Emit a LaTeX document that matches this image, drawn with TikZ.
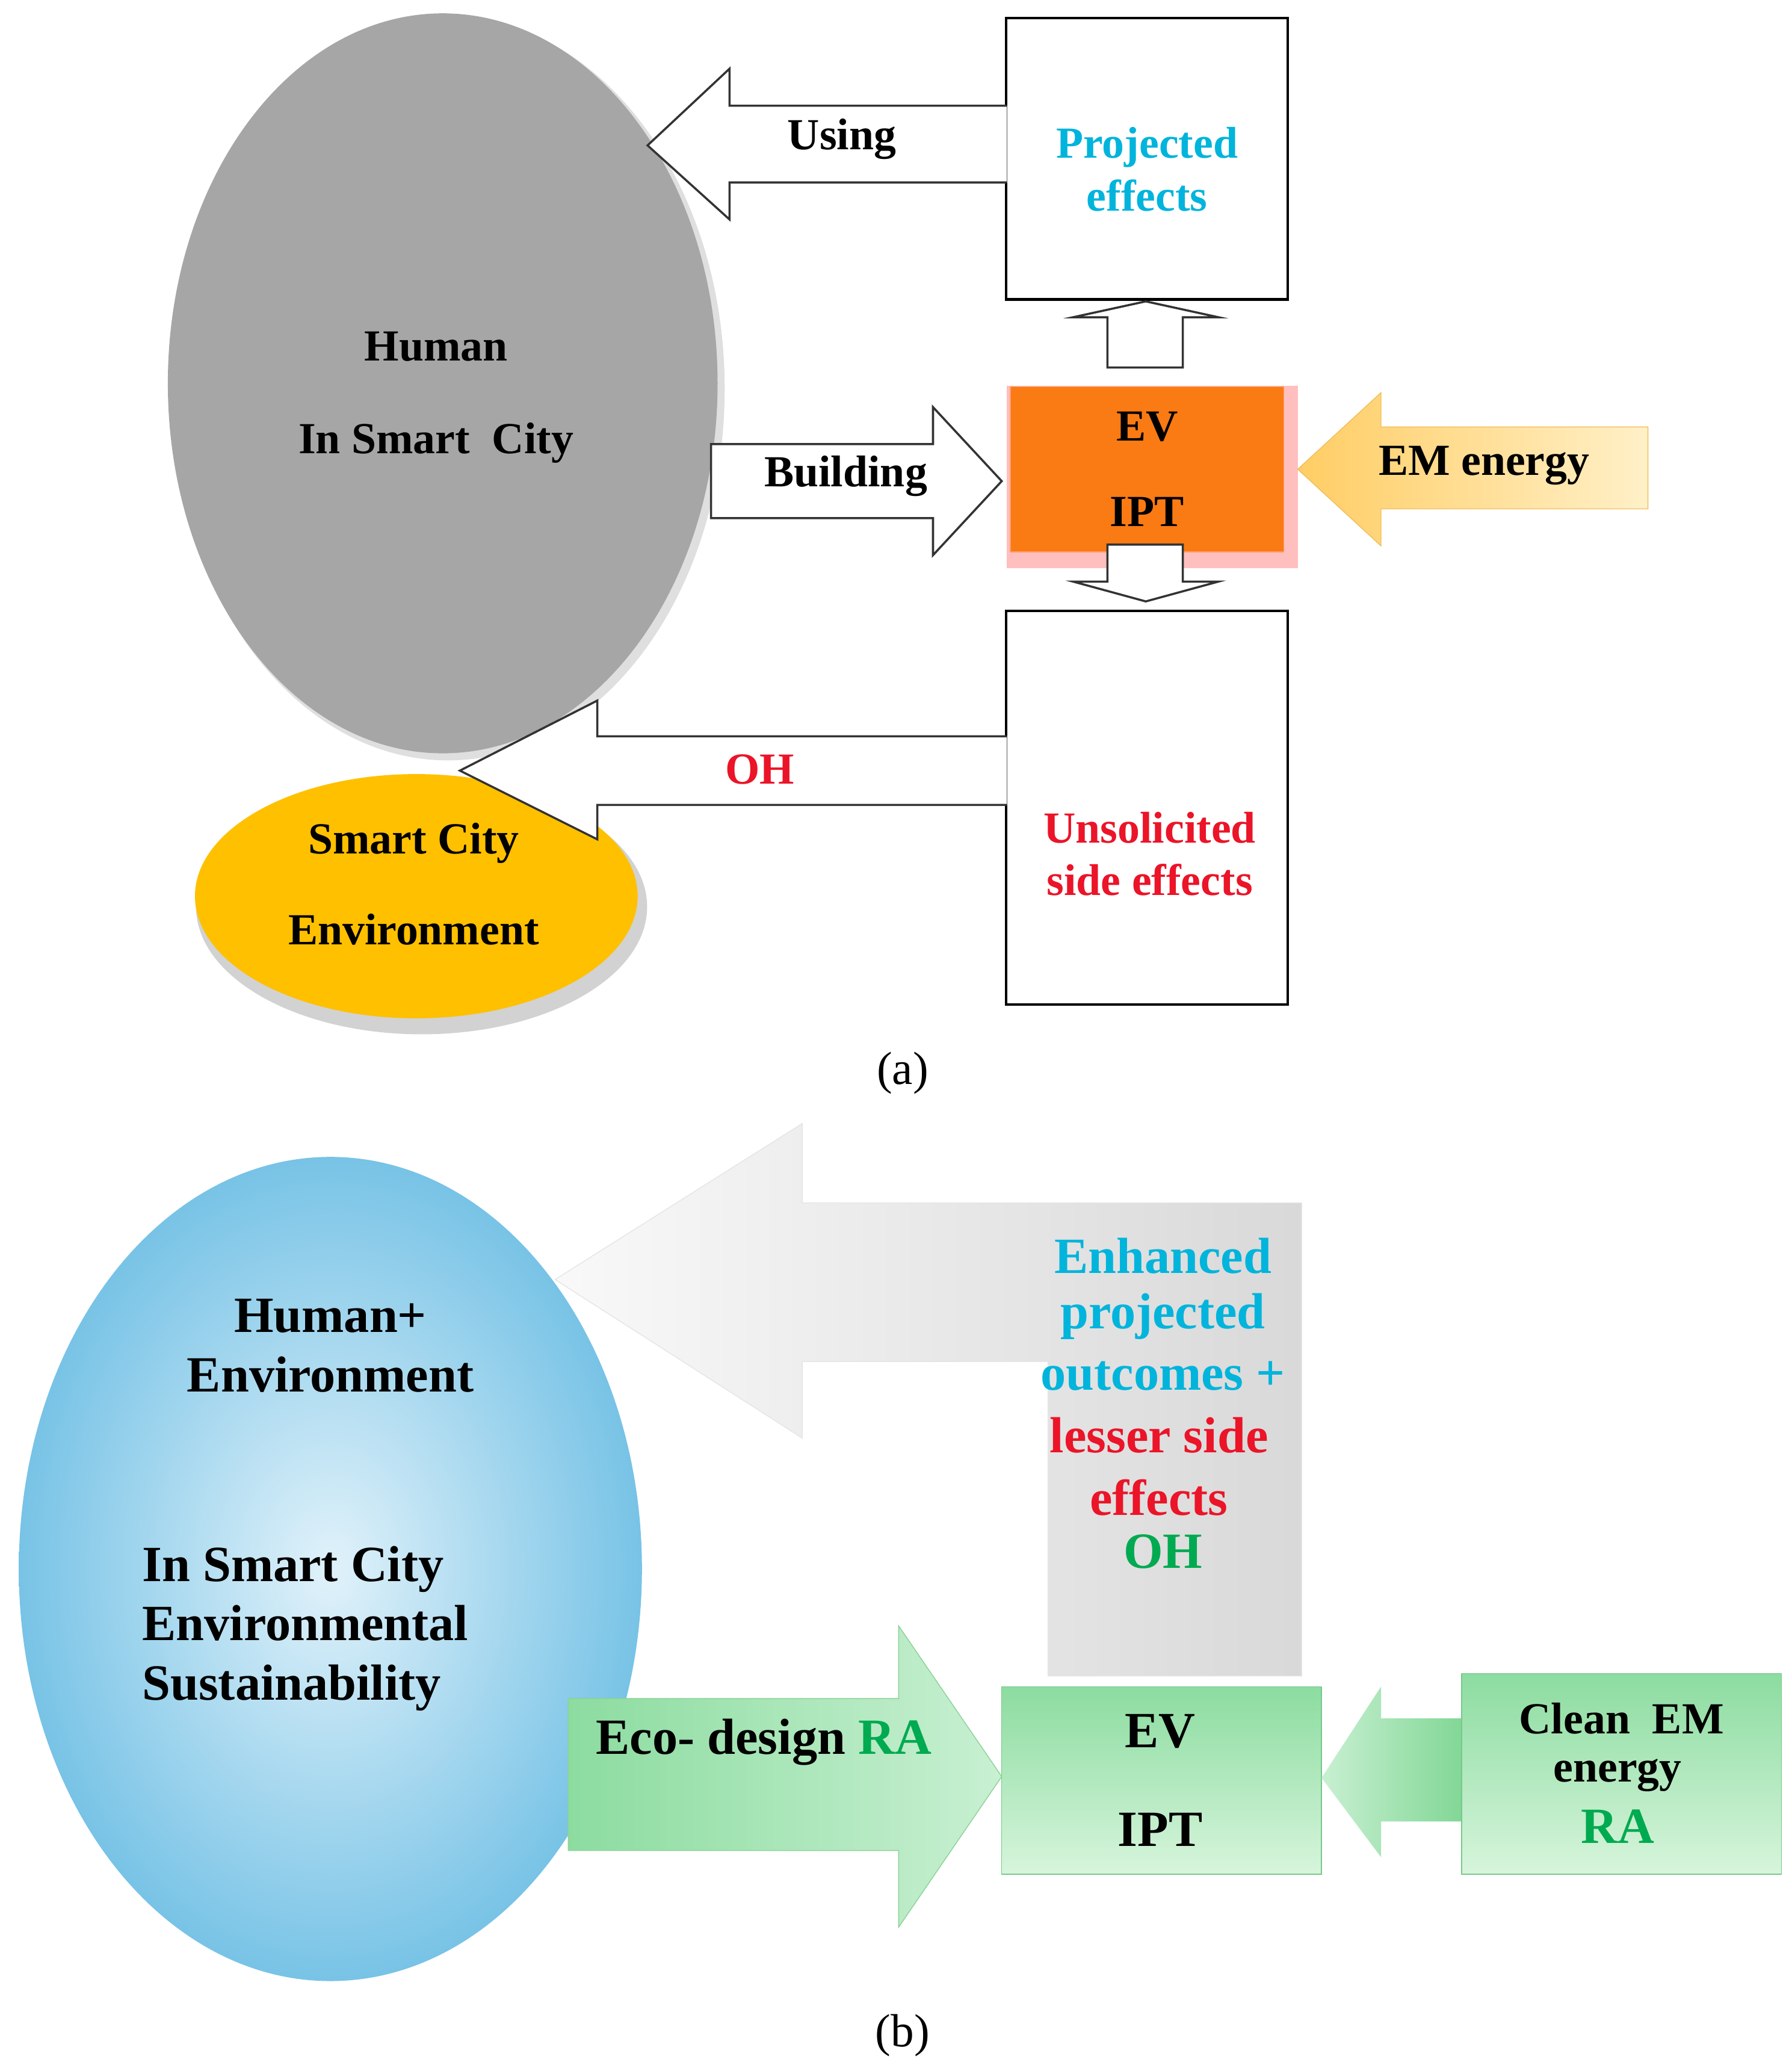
\documentclass[tikz,border=0pt]{standalone}
\usepackage{fontspec}
\setmainfont{Liberation Serif}
\begin{document}
\begin{tikzpicture}[x=0.02197cm,y=-0.02197cm,
  lab/.style={font=\bfseries\fontsize{21}{25}\selectfont,align=center},
  labb/.style={font=\bfseries\fontsize{24}{28}\selectfont,align=center},
  box/.style={draw=black,line width=1.2pt,fill=white},
  harrow/.style={draw=black!80,line width=1pt,fill=white,line join=miter}]
\definecolor{cyn}{RGB}{0,180,220}
\definecolor{rd}{RGB}{235,20,40}
\definecolor{grn}{RGB}{0,170,80}
\useasboundingbox (0,0) rectangle (1356,1560);
% ---------- (a)
\fill[gray!25] (339,294) ellipse [x radius=4.6cm,y radius=6.18cm];
\fill[black!35] (335,290) ellipse [x radius=4.57cm,y radius=6.15cm];
\node[lab] (hum) at (330,262) {Human};
\node[lab] (hsc) at (330,335) {In Smart\ \ City};
\fill[gray!35] (319,686) ellipse [x radius=3.75cm,y radius=2.12cm];
\fill[fill={rgb,255:red,255;green,192;blue,0}] (315,678) ellipse [x radius=3.68cm,y radius=2.03cm];
\node[lab] (sc) at (313,638) {Smart City};
\node[lab] (env) at (313,703) {Environment};
% boxes
\node[box,minimum width=213*0.02197cm,minimum height=213*0.02197cm] (proj) at (868,120) {};
\node[lab,text=cyn] at (868,128) {Projected\\effects};
\node[box,minimum width=213*0.02197cm,minimum height=298*0.02197cm] (uns) at (868,611) {};
\node[lab,text=rd] at (870,646) {Unsolicited\\side effects};
% Using arrow
\draw[harrow] (762,80) -- (552,80) -- (552,52) -- (490,110) -- (552,166) -- (552,138) -- (762,138);
\node[lab] (using) at (637,105) {Using};
% Building arrow
\draw[harrow] (538,336) -- (706,336) -- (706,308) -- (758,364) -- (706,420) -- (706,392) -- (538,392) -- cycle;
\node[lab] (bld) at (640,360) {Building};
% up / down arrows
\draw[harrow] (838,278) -- (838,240) -- (812,240) -- (867,228) -- (922,240) -- (895,240) -- (895,278) -- cycle;
% EV box
\fill[red!25] (762,292) rectangle (982,430);
\node[fill={rgb,255:red,250;green,122;blue,20},draw={rgb,255:red,255;green,160;blue,110},minimum width=207*0.02197cm,minimum height=125*0.02197cm] (ev) at (868,355) {};
\node[lab] at (868,323) {EV};
\node[lab] at (868,387) {IPT};
\draw[harrow] (838,412) -- (838,440) -- (812,440) -- (867,455) -- (922,440) -- (895,440) -- (895,412) -- cycle;
% EM energy arrow
\shade[left color={rgb,255:red,255;green,205;blue,100},right color={rgb,255:red,255;green,240;blue,200},draw={rgb,255:red,240;green,190;blue,90}]
 (1247,323) -- (1045,323) -- (1045,297) -- (982,355) -- (1045,413) -- (1045,385) -- (1247,385) -- cycle;
\node[lab] (em) at (1123,352) {EM energy};
% OH arrow
\draw[harrow] (762,557) -- (452,557) -- (452,530) -- (348,583) -- (452,635) -- (452,609) -- (762,609);
\node[lab,text=rd] (oh) at (575,582) {OH};
\node[font=\fontsize{22}{26}\selectfont] (la) at (683,812) {(a)};
% ---------- (b)
\shade[inner color={rgb,255:red,225;green,242;blue,250},outer color={rgb,255:red,120;green,195;blue,230}] (250,1187) ellipse [x radius=5.18cm,y radius=6.85cm];
\node[labb] (he) at (250,1018) {Human+\\Environment};
\node[labb,align=left,anchor=west] (ises) at (102,1232) {In Smart City\\Environmental\\Sustainability};
\shade[left color=gray!5,right color=gray!30,draw=gray!20]
 (985,910) -- (985,1268) -- (793,1268) -- (793,1030) -- (607,1030) -- (607,1088) -- (420,968) -- (607,850) -- (607,910) -- cycle;
\node[labb,text=cyn] (enh) at (880,950) {Enhanced};
\node[labb,text=cyn] at (880,996) {projected};
\node[labb,text=cyn] at (880,1041) {outcomes +};
\node[labb,text=rd] at (877,1086) {lesser side};
\node[labb,text=rd] at (877,1133) {effects};
\node[labb,text=grn] at (880,1174) {OH};
% Eco-design arrow
\shade[left color={rgb,255:red,140;green,220;blue,160},right color={rgb,255:red,200;green,240;blue,210},draw={rgb,255:red,140;green,210;blue,150}]
 (430,1285) -- (680,1285) -- (680,1230) -- (758,1344) -- (680,1458) -- (680,1400) -- (430,1400) -- cycle;
\node[labb] (eco) at (578,1318) {Eco- design \textcolor{grn}{RA}};
% EV IPT box
\shade[top color={rgb,255:red,140;green,220;blue,160},bottom color={rgb,255:red,215;green,245;blue,220},draw={rgb,255:red,120;green,200;blue,140}] (758,1276) rectangle (1000,1418);
\node[labb] (ev2) at (878,1310) {EV};
\node[labb] at (878,1384) {IPT};
% left arrow
\shade[left color={rgb,255:red,200;green,240;blue,210},right color={rgb,255:red,130;green,215;blue,150}]
 (1106,1300) -- (1045,1300) -- (1045,1276) -- (1000,1345) -- (1045,1405) -- (1045,1378) -- (1106,1378) -- cycle;
% Clean box
\shade[top color={rgb,255:red,140;green,220;blue,160},bottom color={rgb,255:red,215;green,245;blue,220},draw={rgb,255:red,120;green,200;blue,140}] (1106,1266) rectangle (1348,1418);
\node[lab] (cl) at (1227,1300) {Clean\ \ EM};
\node[lab] at (1224,1343) {energy};
\node[labb,text=grn] at (1224,1382) {RA};
\node[font=\fontsize{22}{26}\selectfont] (lb) at (683,1540) {(b)};
\end{tikzpicture}
\end{document}
